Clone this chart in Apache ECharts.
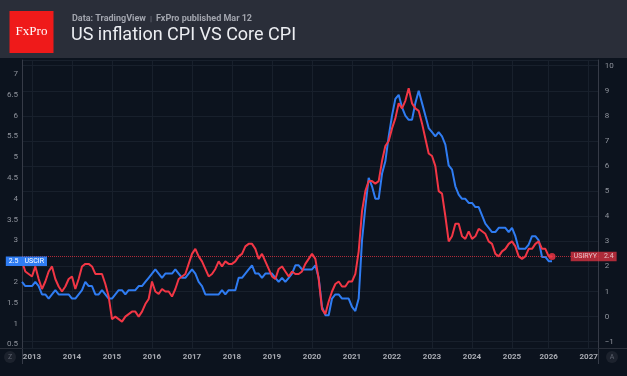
<!DOCTYPE html>
<html>
<head>
<meta charset="utf-8">
<script src="https://cdn.jsdelivr.net/npm/echarts@6/dist/echarts.min.js"></script>
<style>
  html, body { margin: 0; padding: 0; background: #0c131e; }
  #chart { width: 627px; height: 376px; }
</style>
</head>
<body>
<div id="chart"></div>
<script>
// time scale: monthly bars Oct 2012 .. Apr 2027, no print for Oct 2025
var firstMonth = [2012, 10]
var lastMonth = [2027, 4]
var missingMonths = ['2025-10']

// US CPI YoY, %  (USIRYY, right scale) Oct 2012 .. Feb 2026
var cpiYoY = [
  2.2, 1.8, 1.7,
  1.6, 2.0, 1.5, 1.1, 1.4, 1.8, 2.0, 1.5, 1.2, 1.0, 1.2, 1.5,
  1.6, 1.1, 1.5, 2.0, 2.1, 2.1, 2.0, 1.7, 1.7, 1.7, 1.3, 0.8,
  -0.1, 0.0, -0.1, -0.2, 0.0, 0.1, 0.2, 0.2, 0.0, 0.2, 0.5, 0.7,
  1.4, 1.0, 0.9, 1.1, 1.0, 1.0, 0.8, 1.1, 1.5, 1.6, 1.7, 2.1,
  2.5, 2.7, 2.4, 2.2, 1.9, 1.6, 1.7, 1.9, 2.2, 2.0, 2.2, 2.1,
  2.1, 2.2, 2.4, 2.5, 2.8, 2.9, 2.9, 2.7, 2.3, 2.5, 2.2, 1.9,
  1.6, 1.5, 1.9, 2.0, 1.8, 1.6, 1.8, 1.7, 1.7, 1.8, 2.1, 2.3,
  2.5, 2.3, 1.5, 0.3, 0.1, 0.6, 1.0, 1.3, 1.4, 1.2, 1.2, 1.4,
  1.4, 1.7, 2.6, 4.2, 5.0, 5.4, 5.4, 5.3, 5.4, 6.2, 6.8, 7.0,
  7.5, 7.9, 8.5, 8.3, 8.6, 9.1, 8.5, 8.3, 8.2, 7.7, 7.1, 6.5,
  6.4, 6.0, 5.0, 4.9, 4.0, 3.0, 3.2, 3.7, 3.7, 3.2, 3.1, 3.4,
  3.1, 3.2, 3.5, 3.4, 3.3, 3.0, 2.9, 2.5, 2.4, 2.6, 2.7, 2.9,
  3.0, 2.8, 2.4, 2.3, 2.4, 2.7, 2.7, 2.9, 3.0, 2.7, 2.7,
  2.4, 2.4
]

// US Core CPI YoY, %  (USCIR, left scale) Oct 2012 .. Feb 2026
var coreYoY = [
  2.0, 1.9, 1.9,
  1.9, 2.0, 1.9, 1.7, 1.7, 1.6, 1.7, 1.8, 1.7, 1.7, 1.7, 1.7,
  1.6, 1.6, 1.7, 1.8, 2.0, 1.9, 1.9, 1.7, 1.7, 1.8, 1.7, 1.6,
  1.6, 1.7, 1.8, 1.8, 1.7, 1.8, 1.8, 1.8, 1.9, 1.9, 2.0, 2.1,
  2.2, 2.3, 2.2, 2.1, 2.2, 2.2, 2.2, 2.3, 2.2, 2.1, 2.1, 2.2,
  2.3, 2.2, 2.0, 1.9, 1.7, 1.7, 1.7, 1.7, 1.7, 1.8, 1.7, 1.8,
  1.8, 1.8, 2.1, 2.1, 2.2, 2.3, 2.4, 2.2, 2.2, 2.1, 2.2, 2.2,
  2.2, 2.1, 2.0, 2.1, 2.0, 2.1, 2.2, 2.4, 2.4, 2.3, 2.3, 2.3,
  2.3, 2.4, 2.1, 1.4, 1.2, 1.2, 1.6, 1.7, 1.7, 1.6, 1.6, 1.6,
  1.4, 1.3, 1.6, 3.0, 3.8, 4.5, 4.3, 4.0, 4.0, 4.6, 4.9, 5.5,
  6.0, 6.4, 6.5, 6.2, 6.0, 5.9, 5.9, 6.3, 6.6, 6.3, 6.0, 5.7,
  5.6, 5.5, 5.6, 5.5, 5.3, 4.8, 4.7, 4.3, 4.1, 4.0, 4.0, 3.9,
  3.9, 3.8, 3.8, 3.6, 3.4, 3.3, 3.2, 3.2, 3.3, 3.3, 3.3, 3.2,
  3.3, 3.1, 2.8, 2.8, 2.8, 2.9, 3.1, 3.1, 3.0, 2.6, 2.6,
  2.5, 2.5
]

var cpiName = 'USIRYY'
var coreName = 'USCIR'

// scale ranges as shown on the two price scales
var leftRange = [0.411, 7.337]
var rightRange = [-1.251, 10.227]

var months = []
var y = firstMonth[0], m = firstMonth[1]
while (y < lastMonth[0] || (y === lastMonth[0] && m <= lastMonth[1])) {
  var key = y + '-' + (m < 10 ? '0' + m : m)
  if (missingMonths.indexOf(key) < 0) months.push(key)
  m++
  if (m > 12) { m = 1; y++ }
}
var isJan = function (i, v) { return v.slice(5) === '01' }

var lastCpi = cpiYoY[cpiYoY.length - 1]
var lastCore = coreYoY[coreYoY.length - 1]

var red = '#f23645'
var blue = '#2f7cf2'
var gridColor = '#18202c'
var axisColor = '#363b47'
var labelColor = '#8f939c'

var chart = echarts.init(document.getElementById('chart'))

chart.setOption({
  animation: false,
  backgroundColor: '#0c131e',
  title: [
    {
      text: '{a|Data: TradingView}{s|  |  }{a|FxPro published Mar 12}',
      left: 72,
      top: 14,
      padding: 0,
      textStyle: {
        rich: {
          a: { color: '#a2a5ae', fontSize: 9, fontFamily: 'Roboto' },
          s: { color: '#6b6f79', fontSize: 8, fontFamily: 'Roboto' }
        }
      }
    },
    {
      text: 'US inflation CPI VS Core CPI',
      left: 71,
      top: 26,
      padding: 0,
      textStyle: { color: '#eceef2', fontSize: 18, fontWeight: 'normal', fontFamily: 'Roboto' }
    }
  ],
  graphic: [
    { type: 'rect', z: -10, shape: { x: 0, y: 0, width: 627, height: 58 }, style: { fill: '#2a2e39' } },
    { type: 'rect', shape: { x: 9.5, y: 11, width: 44, height: 42 }, style: { fill: '#ef1a1a' } },
    { type: 'text', x: 31.5, y: 32, style: { text: 'FxPro', fill: '#fff', font: '13px "Liberation Serif"', textAlign: 'center', textVerticalAlign: 'middle' } },
    { type: 'line', shape: { x1: 0, y1: 348.5, x2: 627, y2: 348.5 }, style: { stroke: '#2b303b', lineWidth: 1 } },
    { type: 'line', shape: { x1: 22.5, y1: 348, x2: 22.5, y2: 364 }, style: { stroke: axisColor, lineWidth: 1 } },
    { type: 'line', shape: { x1: 598.5, y1: 348, x2: 598.5, y2: 364 }, style: { stroke: axisColor, lineWidth: 1 } },
    { type: 'circle', shape: { cx: 10, cy: 357, r: 6 }, style: { fill: '#1c222d' } },
    { type: 'text', x: 10, y: 357, style: { text: 'Z', fill: '#5f6470', font: '7px Roboto', textAlign: 'center', textVerticalAlign: 'middle' } },
    { type: 'circle', shape: { cx: 612, cy: 357, r: 6 }, style: { fill: '#1c222d' } },
    { type: 'text', x: 612, y: 357, style: { text: 'A', fill: '#5f6470', font: '7px Roboto', textAlign: 'center', textVerticalAlign: 'middle' } }
  ],
  grid: { left: 22, right: 28.3, top: 60, bottom: 28 },
  xAxis: {
    type: 'category',
    data: months,
    boundaryGap: false,
    axisLine: { show: false },
    axisTick: { show: false },
    axisLabel: {
      interval: isJan,
      formatter: function (v) { return v.slice(0, 4) },
      color: '#a9acb3',
      fontSize: 8,
      fontWeight: 'bold',
      fontFamily: 'Roboto',
      margin: 5
    },
    splitLine: { show: true, interval: isJan, lineStyle: { color: gridColor, width: 1 } }
  },
  yAxis: [
    {
      type: 'value',
      position: 'left',
      min: leftRange[0],
      max: leftRange[1],
      splitNumber: 13,
      axisLine: { show: true, lineStyle: { color: axisColor } },
      axisTick: { show: false },
      splitLine: { show: false },
      axisLabel: { color: labelColor, fontSize: 8, fontFamily: 'Roboto', margin: 4, showMinLabel: false, showMaxLabel: false }
    },
    {
      type: 'value',
      position: 'right',
      min: rightRange[0],
      max: rightRange[1],
      splitNumber: 11,
      axisLine: { show: true, lineStyle: { color: axisColor } },
      axisTick: { show: false },
      splitLine: { show: true, lineStyle: { color: gridColor, width: 1 } },
      axisLabel: {
        color: labelColor, fontSize: 8, fontFamily: 'Roboto', margin: 6, showMinLabel: false, showMaxLabel: false,
        formatter: function (v) { return String(v).replace('-', '\u2212') }
      }
    }
  ],
  series: [
    {
      name: coreName,
      type: 'line',
      yAxisIndex: 0,
      data: coreYoY,
      showSymbol: false,
      lineStyle: { color: blue, width: 2 },
      itemStyle: { color: blue },
      markLine: {
        silent: true,
        symbol: 'none',
        lineStyle: { color: 'rgba(0,0,0,0)', width: 1 },
        label: {
          show: true,
          position: 'start',
          distance: -25,
          backgroundColor: blue,
          padding: [1.5, 3, 1, 3],
          formatter: function () { return '{v|' + lastCore.toFixed(1) + '}{n|' + coreName + '}' },
          rich: {
            v: { color: '#fff', fontSize: 7, fontFamily: 'Roboto', padding: [0, 6, 0, 0] },
            n: { color: '#fff', fontSize: 7, fontFamily: 'Roboto' }
          }
        },
        data: [{ yAxis: lastCore }]
      }
    },
    {
      name: cpiName,
      type: 'line',
      yAxisIndex: 1,
      data: cpiYoY,
      showSymbol: false,
      lineStyle: { color: red, width: 2 },
      itemStyle: { color: red },
      markLine: {
        silent: true,
        symbol: 'none',
        lineStyle: { color: red, width: 1, type: 'dotted', opacity: 0.7 },
        label: {
          position: 'end',
          distance: -28,
          backgroundColor: red,
          padding: [1.5, 3, 1, 3],
          formatter: function () { return '{n|' + cpiName + '}{v|' + lastCpi.toFixed(1) + '}' },
          rich: {
            n: { color: '#fff', fontSize: 7, fontFamily: 'Roboto', padding: [0, 7, 0, 0] },
            v: { color: '#fff', fontSize: 7, fontFamily: 'Roboto' }
          }
        },
        data: [{ yAxis: lastCpi }]
      }
    },
    {
      type: 'scatter',
      yAxisIndex: 1,
      data: [[cpiYoY.length - 1, lastCpi]],
      symbolSize: 7,
      itemStyle: { color: red },
      silent: true
    }
  ]
})
</script>
</body>
</html>
